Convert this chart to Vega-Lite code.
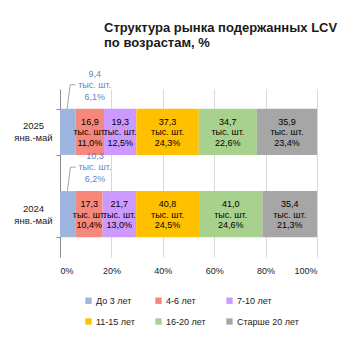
{
  "$schema": "https://vega.github.io/schema/vega-lite/v6.json",
  "autosize": {"type": "none"},
  "width": 257,
  "height": 168,
  "padding": {"left": 60, "top": 89, "right": 38, "bottom": 99},
  "background": "white",
  "title": {
    "text": ["Структура рынка подержанных LCV", "по возрастам, %"],
    "anchor": "start",
    "frame": "group",
    "dx": 44,
    "offset": 20,
    "font": "Liberation Sans",
    "fontSize": 13,
    "fontWeight": "bold",
    "lineHeight": 15,
    "color": "#1a1a1a"
  },
  "config": {
    "locale": {"number": {"decimal": ",", "thousands": " ", "grouping": [3], "currency": ["", ""]}},
    "font": "Liberation Sans",
    "view": {"stroke": null},
    "text": {"font": "Liberation Sans", "fontSize": 9}
  },
  "data": {
    "values": [
      {"period": "2025 янв.-май", "age": "До 3 лет", "ord": 1, "v": 9.4, "pct": 0.061},
      {"period": "2025 янв.-май", "age": "4-6 лет", "ord": 2, "v": 16.9, "pct": 0.110},
      {"period": "2025 янв.-май", "age": "7-10 лет", "ord": 3, "v": 19.3, "pct": 0.125},
      {"period": "2025 янв.-май", "age": "11-15 лет", "ord": 4, "v": 37.3, "pct": 0.243},
      {"period": "2025 янв.-май", "age": "16-20 лет", "ord": 5, "v": 34.7, "pct": 0.226},
      {"period": "2025 янв.-май", "age": "Старше 20 лет", "ord": 6, "v": 35.9, "pct": 0.234},
      {"period": "2024 янв.-май", "age": "До 3 лет", "ord": 1, "v": 10.3, "pct": 0.062},
      {"period": "2024 янв.-май", "age": "4-6 лет", "ord": 2, "v": 17.3, "pct": 0.104},
      {"period": "2024 янв.-май", "age": "7-10 лет", "ord": 3, "v": 21.7, "pct": 0.130},
      {"period": "2024 янв.-май", "age": "11-15 лет", "ord": 4, "v": 40.8, "pct": 0.245},
      {"period": "2024 янв.-май", "age": "16-20 лет", "ord": 5, "v": 41.0, "pct": 0.246},
      {"period": "2024 янв.-май", "age": "Старше 20 лет", "ord": 6, "v": 35.4, "pct": 0.213}
    ]
  },
  "encoding": {
    "y": {
      "field": "period",
      "type": "nominal",
      "sort": ["2025 янв.-май", "2024 янв.-май"],
      "scale": {"paddingInner": 0.44, "paddingOuter": 0.24},
      "axis": {
        "title": null,
        "labelExpr": "split(datum.label, ' ')",
        "labelAlign": "center",
        "labelPadding": 23,
        "labelOffset": -6,
        "labelFont": "Liberation Sans",
        "labelFontSize": 9.5,
        "labelColor": "#1a1a1a",
        "labelLineHeight": 12,
        "tickBand": "extent",
        "tickSize": 4,
        "tickColor": "#8c8c8c",
        "domainColor": "#8c8c8c",
        "grid": false
      }
    }
  },
  "layer": [
    {
      "mark": {"type": "bar"},
      "encoding": {
        "x": {
          "field": "v",
          "type": "quantitative",
          "stack": "normalize",
          "scale": {"domain": [0, 1], "nice": false},
          "axis": {
            "title": null,
            "format": ".0%",
            "values": [0, 0.2, 0.4, 0.6, 0.8, 1],
            "domain": false,
            "ticks": false,
            "grid": true,
            "gridColor": "#d9d9d9",
            "labelPadding": 9,
            "labelFont": "Liberation Sans",
            "labelFontSize": 9,
            "labelColor": "#1a1a1a"
          }
        },
        "order": {"field": "ord", "type": "quantitative"},
        "color": {
          "field": "age",
          "type": "nominal",
          "sort": ["До 3 лет", "4-6 лет", "7-10 лет", "11-15 лет", "16-20 лет", "Старше 20 лет"],
          "scale": {
            "domain": ["До 3 лет", "4-6 лет", "7-10 лет", "11-15 лет", "16-20 лет", "Старше 20 лет"],
            "range": ["#9db4de", "#f5887a", "#cc99ff", "#ffc000", "#a9d18e", "#a6a6a6"]
          },
          "legend": {
            "title": null,
            "orient": "none",
            "legendX": 24,
            "legendY": 207,
            "direction": "horizontal",
            "columns": 3,
            "gridAlign": "each",
            "symbolType": "square",
            "symbolSize": 40,
            "symbolStrokeWidth": 0,
            "labelOffset": 3,
            "labelFont": "Liberation Sans",
            "labelFontSize": 9,
            "labelColor": "#1a1a1a",
            "columnPadding": 19,
            "rowPadding": 11
          }
        }
      }
    },
    {
      "mark": {"type": "text", "dy": -10, "color": "#000000"},
      "encoding": {
        "x": {"field": "v", "type": "quantitative", "stack": "normalize", "bandPosition": 0.5},
        "detail": {"field": "age"},
        "order": {"field": "ord", "type": "quantitative"},
        "opacity": {"condition": {"test": "datum.age == 'До 3 лет'", "value": 0}, "value": 1},
        "text": {"field": "v", "type": "quantitative", "format": ".1f"}
      }
    },
    {
      "mark": {"type": "text", "dy": 0.5, "color": "#000000"},
      "encoding": {
        "x": {"field": "v", "type": "quantitative", "stack": "normalize", "bandPosition": 0.5},
        "detail": {"field": "age"},
        "order": {"field": "ord", "type": "quantitative"},
        "opacity": {"condition": {"test": "datum.age == 'До 3 лет'", "value": 0}, "value": 1},
        "text": {"value": "тыс. шт."}
      }
    },
    {
      "mark": {"type": "text", "dy": 11, "color": "#000000"},
      "encoding": {
        "x": {"field": "v", "type": "quantitative", "stack": "normalize", "bandPosition": 0.5},
        "detail": {"field": "age"},
        "order": {"field": "ord", "type": "quantitative"},
        "opacity": {"condition": {"test": "datum.age == 'До 3 лет'", "value": 0}, "value": 1},
        "text": {"field": "pct", "type": "quantitative", "format": ".1%"}
      }
    },
    {
      "transform": [{"filter": "datum.age == 'До 3 лет'"}],
      "mark": {"type": "text", "dx": 19, "dy": -35, "color": "#5a84c9"},
      "encoding": {
        "x": {"field": "pct", "type": "quantitative"},
        "y": {"field": "period", "type": "nominal", "sort": ["2025 янв.-май", "2024 янв.-май"], "bandPosition": 0},
        "text": {"field": "v", "type": "quantitative", "format": ".1f"}
      }
    },
    {
      "transform": [{"filter": "datum.age == 'До 3 лет'"}],
      "mark": {"type": "text", "dx": 19, "dy": -24, "color": "#5a84c9"},
      "encoding": {
        "x": {"field": "pct", "type": "quantitative"},
        "y": {"field": "period", "type": "nominal", "sort": ["2025 янв.-май", "2024 янв.-май"], "bandPosition": 0},
        "text": {"value": "тыс. шт."}
      }
    },
    {
      "transform": [{"filter": "datum.age == 'До 3 лет'"}],
      "mark": {"type": "text", "dx": 19, "dy": -12, "color": "#5a84c9"},
      "encoding": {
        "x": {"field": "pct", "type": "quantitative"},
        "y": {"field": "period", "type": "nominal", "sort": ["2025 янв.-май", "2024 янв.-май"], "bandPosition": 0},
        "text": {"field": "pct", "type": "quantitative", "format": ".1%"}
      }
    },
    {
      "transform": [{"filter": "datum.age == 'До 3 лет'"}],
      "mark": {"type": "rule", "color": "#a6a6a6", "strokeWidth": 1, "xOffset": -8.5, "x2Offset": -5.5, "y2Offset": -24},
      "encoding": {
        "x": {"field": "pct", "type": "quantitative"},
        "x2": {"field": "pct"},
        "y": {"field": "period", "type": "nominal", "sort": ["2025 янв.-май", "2024 янв.-май"], "bandPosition": 0},
        "y2": {"field": "period", "bandPosition": 0}
      }
    },
    {
      "transform": [{"filter": "datum.age == 'До 3 лет'"}],
      "mark": {"type": "rule", "color": "#a6a6a6", "strokeWidth": 1, "xOffset": -5.5, "x2Offset": 0, "yOffset": -24},
      "encoding": {
        "x": {"field": "pct", "type": "quantitative"},
        "x2": {"field": "pct"},
        "y": {"field": "period", "type": "nominal", "sort": ["2025 янв.-май", "2024 янв.-май"], "bandPosition": 0}
      }
    }
  ]
}
